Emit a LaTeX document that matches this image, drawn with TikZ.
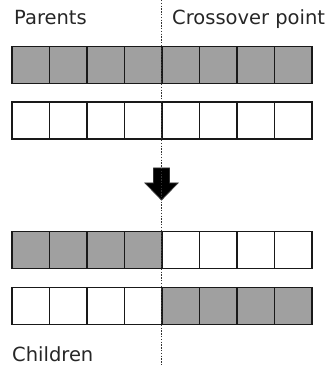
\documentclass[tikz,border=0pt]{standalone}
\usepackage{fontspec}
\setmainfont{DejaVu Sans}
\usetikzlibrary{positioning}
\definecolor{cellgray}{RGB}{160,160,160}
\newcommand{\generow}[3]{%
  % #1=y of row centre, #2=row name, #3=fill colours, left to right
  \foreach \c [count=\i] in {#3} {
    \node[gene, fill=\c] (#2-\i) at ({30.75+37.5*(\i-1)}, #1) {};
  }
}

\begin{document}
\begin{tikzpicture}[
  x=1pt, y=1pt,
  gene/.style={draw=black!90, line width=1.7pt, inner sep=0pt,
    minimum width=37.5pt, minimum height=37pt},
  caption/.style={font=\fontsize{19.5}{22}\selectfont, text=black!85, anchor=base west, inner sep=0pt},
  cutline/.style={black!80, line width=1.4pt, dash pattern=on 1.4pt off 1.4pt},
]
\useasboundingbox (0,0) rectangle (329,366);

% Parents: two full rows
\generow{301}{par1}{cellgray,cellgray,cellgray,cellgray,cellgray,cellgray,cellgray,cellgray}
\generow{245.5}{par2}{white,white,white,white,white,white,white,white}

% Children: halves swapped at the cut
\generow{116}{chi1}{cellgray,cellgray,cellgray,cellgray,white,white,white,white}
\generow{60}{chi2}{white,white,white,white,cellgray,cellgray,cellgray,cellgray}

% Labels
\node[caption] (parents) at (14,341.7) {Parents};
\node[caption] (cutlabel) at (172,341.7) {Crossover point};
\node[caption] (children) at (12,5) {Children};

% Down arrow between the two pairs
\filldraw[fill=black, draw=black!80, line width=0.8pt, line join=miter]
  (153.5,198) -- (169.5,198) -- (169.5,183) -- (178,183)
  -- (161.5,166) -- (145,183) -- (153.5,183) -- cycle;

% Crossover cut
\coordinate (cut top) at (161.5,366);
\coordinate (cut bot) at (161.5,0);
\draw[cutline] (cut top) -- (cut bot);
\end{tikzpicture}
\end{document}
